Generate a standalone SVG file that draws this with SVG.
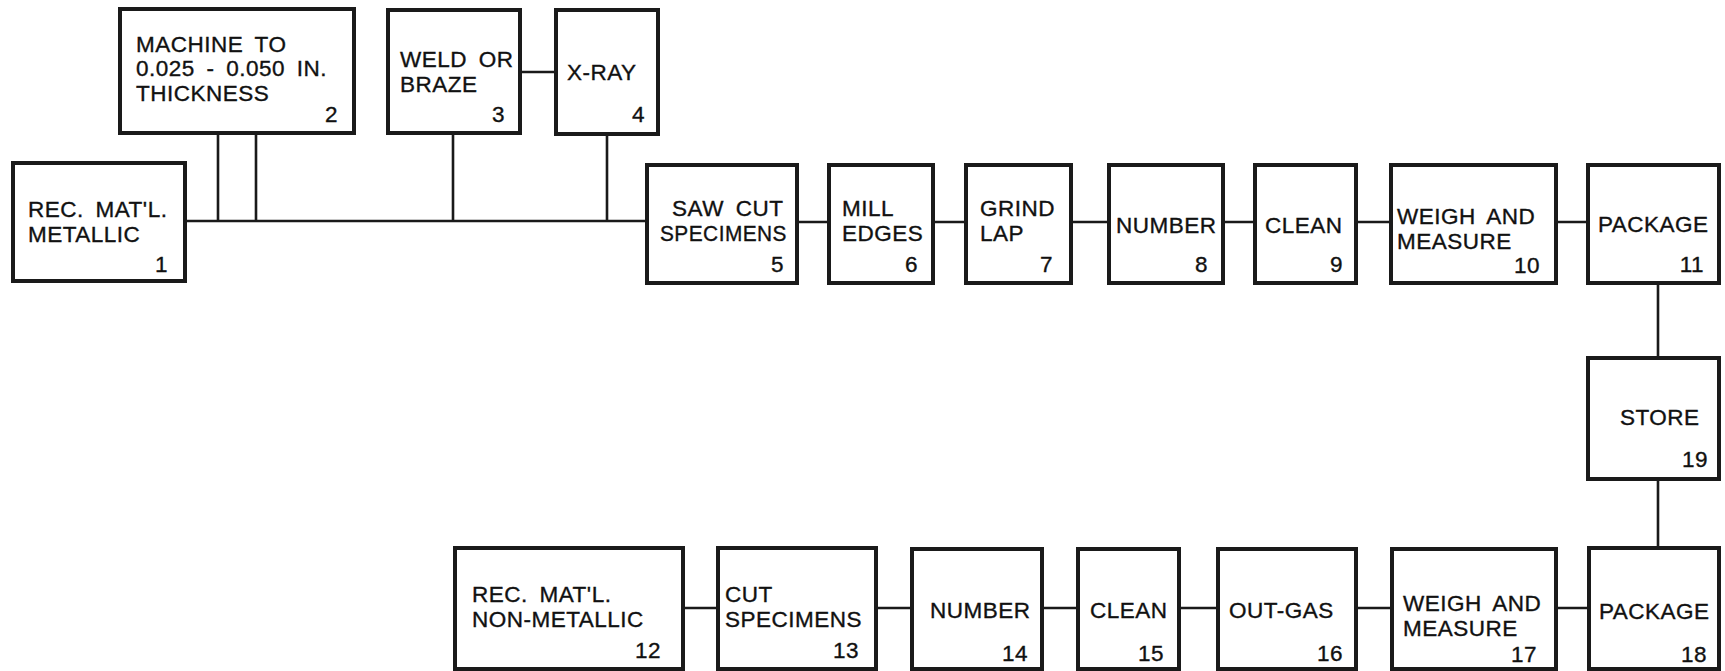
<svg xmlns="http://www.w3.org/2000/svg" width="1725" height="671" viewBox="0 0 1725 671">
<style>
.box{fill:#fff;stroke:#1a1a1a;stroke-width:4}
.ln{stroke:#1a1a1a;stroke-width:2.6;fill:none}
text{font-family:"Liberation Sans",Arial,sans-serif;font-size:22.5px;fill:#111;stroke:#111;stroke-width:0.35;letter-spacing:0.5px;word-spacing:5px}
.n{text-anchor:end}
</style>
<rect width="1725" height="671" fill="#fff"/>
<g id="connectors">
<path class="ln" d="M185 221H647 M218 133V221 M256 133V221 M453 133V221 M607 134V221 M520 72H556"/>
<path class="ln" d="M797 222H829 M933 222H966 M1071 222H1109 M1223 222H1255 M1356 222H1391 M1556 222H1588"/>
<path class="ln" d="M1658 283V358 M1658 479V548"/>
<path class="ln" d="M683 608H718 M876 608H912 M1042 608H1078 M1179 608H1218 M1356 608H1392 M1556 608H1589"/>
</g>
<g id="n1"><rect class="box" x="13" y="163" width="172" height="118"/><text x="28" y="217">REC. MAT'L.</text><text x="28" y="242">METALLIC</text><text class="n" x="168" y="272">1</text></g>
<g id="n2"><rect class="box" x="120" y="9" width="234" height="124"/><text x="136" y="52">MACHINE TO</text><text x="136" y="76">0.025 - 0.050 IN.</text><text x="136" y="101">THICKNESS</text><text class="n" x="338" y="122">2</text></g>
<g id="n3"><rect class="box" x="388" y="10" width="132" height="123"/><text x="400" y="67">WELD OR</text><text x="400" y="92">BRAZE</text><text class="n" x="505" y="122">3</text></g>
<g id="n4"><rect class="box" x="556" y="10" width="102" height="124"/><text x="567" y="80">X-RAY</text><text class="n" x="645" y="122">4</text></g>
<g id="n5"><rect class="box" x="647" y="165" width="150" height="118"/><text x="672" y="216">SAW CUT</text><text x="660" y="241" textLength="127" lengthAdjust="spacingAndGlyphs">SPECIMENS</text><text class="n" x="784" y="272">5</text></g>
<g id="n6"><rect class="box" x="829" y="165" width="104" height="118"/><text x="842" y="216">MILL</text><text x="842" y="241">EDGES</text><text class="n" x="918" y="272">6</text></g>
<g id="n7"><rect class="box" x="966" y="165" width="105" height="118"/><text x="980" y="216">GRIND</text><text x="980" y="241">LAP</text><text class="n" x="1053" y="272">7</text></g>
<g id="n8"><rect class="box" x="1109" y="165" width="114" height="118"/><text x="1116" y="233">NUMBER</text><text class="n" x="1208" y="272">8</text></g>
<g id="n9"><rect class="box" x="1255" y="165" width="101" height="118"/><text x="1265" y="233">CLEAN</text><text class="n" x="1343" y="272">9</text></g>
<g id="n10"><rect class="box" x="1391" y="165" width="165" height="118"/><text x="1397" y="224">WEIGH AND</text><text x="1397" y="249">MEASURE</text><text class="n" x="1540" y="273">10</text></g>
<g id="n11"><rect class="box" x="1588" y="165" width="131" height="118"/><text x="1598" y="232">PACKAGE</text><text class="n" x="1704" y="272">11</text></g>
<g id="n19"><rect class="box" x="1588" y="358" width="131" height="121"/><text x="1620" y="425">STORE</text><text class="n" x="1708" y="467">19</text></g>
<g id="n12"><rect class="box" x="455" y="548" width="228" height="121"/><text x="472" y="602">REC. MAT'L.</text><text x="472" y="627">NON-METALLIC</text><text class="n" x="661" y="658">12</text></g>
<g id="n13"><rect class="box" x="718" y="548" width="158" height="121"/><text x="725" y="602">CUT</text><text x="725" y="627">SPECIMENS</text><text class="n" x="859" y="658">13</text></g>
<g id="n14"><rect class="box" x="912" y="549" width="130" height="120"/><text x="930" y="618">NUMBER</text><text class="n" x="1028" y="661">14</text></g>
<g id="n15"><rect class="box" x="1078" y="549" width="101" height="120"/><text x="1090" y="618">CLEAN</text><text class="n" x="1164" y="661">15</text></g>
<g id="n16"><rect class="box" x="1218" y="549" width="138" height="120"/><text x="1229" y="618">OUT-GAS</text><text class="n" x="1343" y="661">16</text></g>
<g id="n17"><rect class="box" x="1392" y="549" width="164" height="120"/><text x="1403" y="611">WEIGH AND</text><text x="1403" y="636">MEASURE</text><text class="n" x="1537" y="662">17</text></g>
<g id="n18"><rect class="box" x="1589" y="548" width="130" height="121"/><text x="1599" y="619">PACKAGE</text><text class="n" x="1707" y="662">18</text></g>
</svg>
